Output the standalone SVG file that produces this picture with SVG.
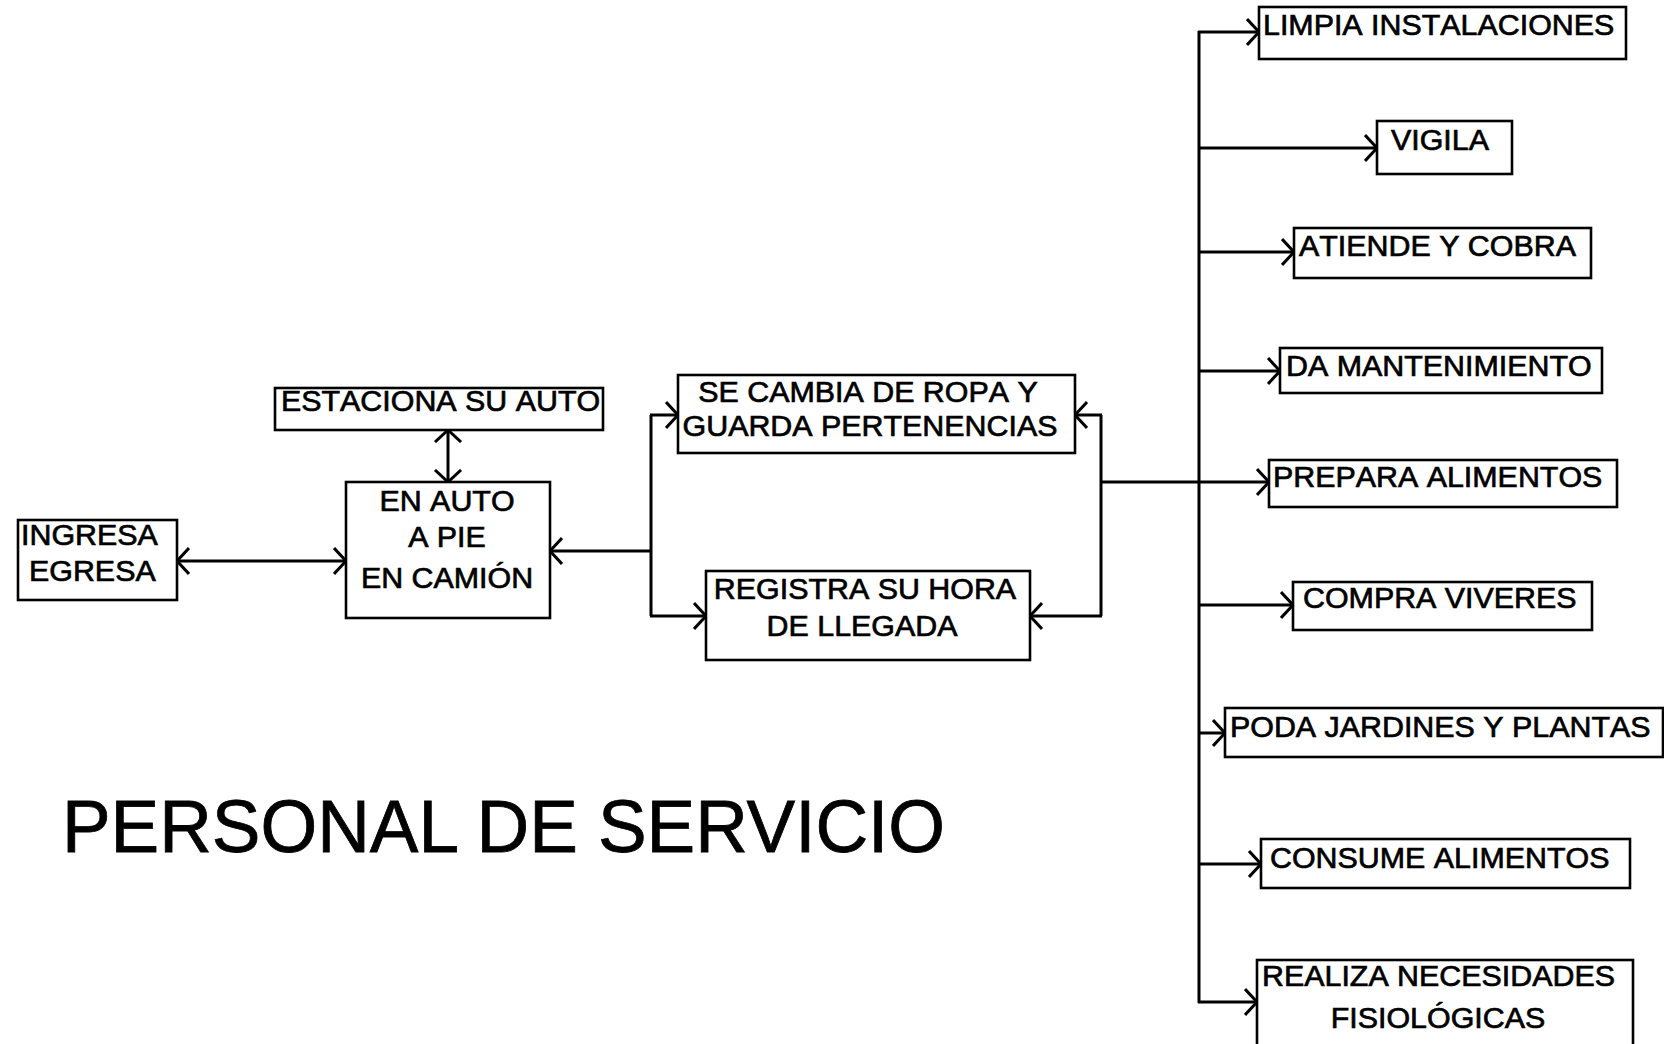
<svg xmlns="http://www.w3.org/2000/svg" width="1664" height="1044" viewBox="0 0 1664 1044">
<style>
.box{fill:#fff;stroke:#000;stroke-width:2.6}
.t{font-family:"Liberation Sans",Arial,sans-serif;font-size:30.4px;fill:#000;stroke:#000;stroke-width:0.7;font-kerning:none}
.m{text-anchor:middle}
.c{fill:none;stroke:#000;stroke-width:3}
.title{font-family:"Liberation Sans",Arial,sans-serif;font-size:74px;fill:#000;stroke:#000;stroke-width:0.8}
</style>
<defs>
<marker id="ah" markerUnits="userSpaceOnUse" markerWidth="18" markerHeight="30" refX="13" refY="14" orient="auto-start-reverse">
<path d="M1,1 L13,14 L1,27" fill="none" stroke="#000" stroke-width="3"/>
</marker>
</defs>
<rect width="1664" height="1044" fill="#fff"/>
<g id="connectors">
<line class="c" x1="177" y1="561" x2="346" y2="561" marker-start="url(#ah)" marker-end="url(#ah)"/>
<line class="c" x1="448" y1="430" x2="448" y2="482" marker-start="url(#ah)" marker-end="url(#ah)"/>
<line class="c" x1="651" y1="551" x2="550" y2="551" marker-end="url(#ah)"/>
<line class="c" x1="651" y1="415" x2="651" y2="616"/>
<line class="c" x1="650" y1="415" x2="678" y2="415" marker-end="url(#ah)"/>
<line class="c" x1="650" y1="616" x2="706" y2="616" marker-end="url(#ah)"/>
<line class="c" x1="1101" y1="415" x2="1101" y2="616"/>
<line class="c" x1="1102" y1="415" x2="1075" y2="415" marker-end="url(#ah)"/>
<line class="c" x1="1102" y1="616" x2="1030" y2="616" marker-end="url(#ah)"/>
<line class="c" x1="1101" y1="482" x2="1269" y2="482" marker-end="url(#ah)"/>
<line class="c" x1="1199" y1="31" x2="1199" y2="1003"/>
<line class="c" x1="1198" y1="32" x2="1259" y2="32" marker-end="url(#ah)"/>
<line class="c" x1="1198" y1="148" x2="1377" y2="148" marker-end="url(#ah)"/>
<line class="c" x1="1198" y1="252" x2="1294" y2="252" marker-end="url(#ah)"/>
<line class="c" x1="1198" y1="371" x2="1280" y2="371" marker-end="url(#ah)"/>
<line class="c" x1="1198" y1="605" x2="1293" y2="605" marker-end="url(#ah)"/>
<line class="c" x1="1198" y1="733" x2="1225" y2="733" marker-end="url(#ah)"/>
<line class="c" x1="1198" y1="864" x2="1261" y2="864" marker-end="url(#ah)"/>
<line class="c" x1="1198" y1="1002" x2="1257" y2="1002" marker-end="url(#ah)"/>
</g>
<g id="ingresa"><rect class="box" x="18" y="520" width="159" height="80"/>
<text class="t" x="21" y="545">INGRESA</text><text class="t" x="29" y="581">EGRESA</text></g>
<g id="estaciona"><rect class="box" x="275" y="388" width="328" height="42"/>
<text class="t" x="281" y="411">ESTACIONA SU AUTO</text></g>
<g id="enauto"><rect class="box" x="346" y="482" width="204" height="136"/>
<text class="t m" x="447" y="511">EN AUTO</text><text class="t m" x="447" y="547">A PIE</text><text class="t m" x="447" y="588">EN CAMIÓN</text></g>
<g id="secambia"><rect class="box" x="678" y="375" width="397" height="78"/>
<text class="t m" x="868" y="402">SE CAMBIA DE ROPA Y</text><text class="t m" x="870" y="436">GUARDA PERTENENCIAS</text></g>
<g id="registra"><rect class="box" x="706" y="571" width="324" height="89"/>
<text class="t m" x="865" y="599">REGISTRA SU HORA</text><text class="t m" x="862" y="636">DE LLEGADA</text></g>
<g id="limpia"><rect class="box" x="1259" y="7" width="367" height="52"/>
<text class="t" x="1263" y="35">LIMPIA INSTALACIONES</text></g>
<g id="vigila"><rect class="box" x="1377" y="121" width="135" height="53"/>
<text class="t" x="1391" y="150">VIGILA</text></g>
<g id="atiende"><rect class="box" x="1294" y="228" width="297" height="50"/>
<text class="t" x="1299" y="256">ATIENDE Y COBRA</text></g>
<g id="mantenimiento"><rect class="box" x="1280" y="348" width="322" height="45"/>
<text class="t" x="1286" y="376">DA MANTENIMIENTO</text></g>
<g id="prepara"><rect class="box" x="1269" y="460" width="348" height="47"/>
<text class="t" x="1273" y="487">PREPARA ALIMENTOS</text></g>
<g id="compra"><rect class="box" x="1293" y="582" width="299" height="48"/>
<text class="t" x="1303" y="608">COMPRA VIVERES</text></g>
<g id="poda"><rect class="box" x="1225" y="708" width="438" height="49"/>
<text class="t" x="1230" y="737">PODA JARDINES Y PLANTAS</text></g>
<g id="consume"><rect class="box" x="1261" y="839" width="369" height="49"/>
<text class="t" x="1270" y="868">CONSUME ALIMENTOS</text></g>
<g id="realiza"><rect class="box" x="1257" y="960" width="376" height="100"/>
<text class="t" x="1262" y="986">REALIZA NECESIDADES</text><text class="t m" x="1438" y="1028">FISIOLÓGICAS</text></g>
<g id="titulo"><text class="title" x="62" y="852" textLength="883" lengthAdjust="spacingAndGlyphs">PERSONAL DE SERVICIO</text></g>
</svg>
